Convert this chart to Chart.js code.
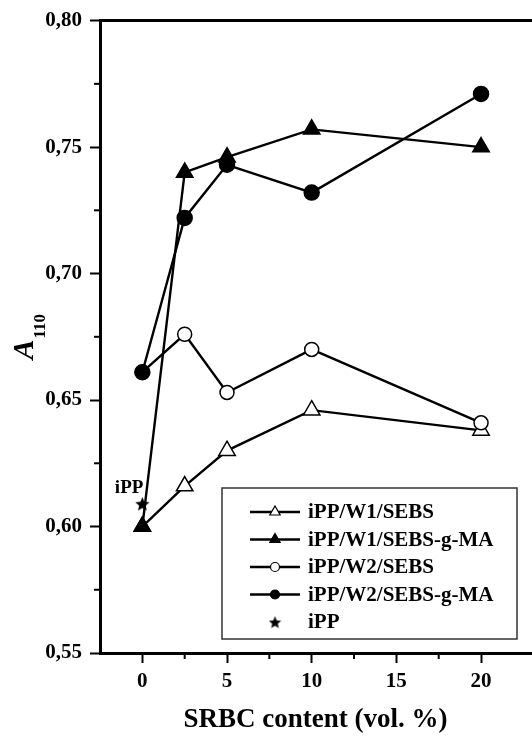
<!DOCTYPE html>
<html>
<head>
<meta charset="utf-8">
<script src="https://cdn.jsdelivr.net/npm/chart.js@4.4.1/dist/chart.umd.min.js"></script>
<style>
  html, body { margin: 0; padding: 0; background: #fff; }
  canvas { display: block; }
</style>
</head>
<body>
<canvas id="a110Chart" width="532" height="736"></canvas>
<script>
// SRBC content (vol. %)
const srbc = [0, 2.5, 5, 10, 20];

// A110 for each blend
const w1Sebs = [0.600, 0.616, 0.630, 0.646, 0.638];
const w1SebsMA = [0.600, 0.740, 0.746, 0.757, 0.750];
const w2Sebs = [0.661, 0.676, 0.653, 0.670, 0.641];
const w2SebsMA = [0.661, 0.722, 0.743, 0.732, 0.771];

// neat iPP
const ippX = [0];
const ippA = [0.609];

const seriesNames = ['iPP/W1/SEBS', 'iPP/W1/SEBS-g-MA', 'iPP/W2/SEBS', 'iPP/W2/SEBS-g-MA', 'iPP'];

// axis ticks
const xTicks = [0, 5, 10, 15, 20];
const xMinorTicks = [2.5, 7.5, 12.5, 17.5];
const yTicks = [0.55, 0.60, 0.65, 0.70, 0.75, 0.80];
const yMinorTicks = [0.575, 0.625, 0.675, 0.725, 0.775];

const serif = "'Liberation Serif', 'Times New Roman', serif";

// filled five-point star used as a point style
function makeStar(size) {
    const c = document.createElement('canvas');
    c.width = c.height = size;
    const g = c.getContext('2d');
    const R = size / 2, r = R * 0.45;
    g.beginPath();
    for (let i = 0; i < 10; i++) {
        const rad = i % 2 ? r : R;
        const a = -Math.PI / 2 + i * Math.PI / 5;
        g.lineTo(R + rad * Math.cos(a), R + rad * Math.sin(a) + 0.8);
    }
    g.closePath();
    g.fillStyle = '#000';
    g.fill();
    return c;
}
const star = makeStar(15);
const legendStar = makeStar(13);

const pts = (xs, ys) => xs.map((x, i) => ({ x: x, y: ys[i] }));

function series(label, ys, style, filled, radius, order) {
    return {
        label: label,
        data: pts(srbc, ys),
        borderColor: '#000',
        borderWidth: 2.4,
        pointStyle: style,
        pointRadius: radius,
        pointBackgroundColor: filled ? '#000' : '#fff',
        pointBorderColor: '#000',
        pointBorderWidth: 1.5,
        tension: 0,
        order: order
    };
}

const datasets = [
    series(seriesNames[0], w1Sebs, 'triangle', false, 9.5, 4),
    series(seriesNames[1], w1SebsMA, 'triangle', true, 9.5, 1),
    series(seriesNames[2], w2Sebs, 'circle', false, 7, 3),
    series(seriesNames[3], w2SebsMA, 'circle', true, 7.5, 2),
    {
        label: seriesNames[4],
        data: pts(ippX, ippA),
        showLine: false,
        pointStyle: star,
        pointRadius: 8,
        order: 0
    }
];

// stretch the plot area to the right edge of the canvas
const fullWidth = {
    id: 'fullWidth',
    afterLayout(chart) {
        const a = chart.chartArea, x = chart.scales.x;
        a.right = chart.width - 1;
        a.width = a.right - a.left;
        x.right = a.right;
        x.width = x.right - x.left;
        x.configure();
    }
};

// frame, minor ticks, y title, point label and legend box
const extras = {
    id: 'extras',
    afterDraw(chart) {
        const { ctx, chartArea: a, scales: { x, y } } = chart;
        ctx.save();
        ctx.strokeStyle = '#000';
        ctx.fillStyle = '#000';

        ctx.lineWidth = 3;
        ctx.beginPath();
        ctx.moveTo(a.left, a.top);
        ctx.lineTo(a.right + 1, a.top);
        ctx.stroke();

        ctx.lineWidth = 2;
        xMinorTicks.forEach(v => {
            const px = x.getPixelForValue(v);
            ctx.beginPath();
            ctx.moveTo(px, a.bottom);
            ctx.lineTo(px, a.bottom + 6);
            ctx.stroke();
        });
        yMinorTicks.forEach(v => {
            const py = y.getPixelForValue(v);
            ctx.beginPath();
            ctx.moveTo(a.left, py);
            ctx.lineTo(a.left - 6, py);
            ctx.stroke();
        });

        // A110 axis title
        const cy = (a.top + a.bottom) / 2;
        ctx.font = 'italic bold 30px ' + serif;
        const wA = ctx.measureText('A').width;
        ctx.font = 'bold 17px ' + serif;
        const wSub = ctx.measureText('110').width;
        const total = wA + 1 + wSub;
        ctx.save();
        ctx.translate(33, cy + total / 2);
        ctx.rotate(-Math.PI / 2);
        ctx.textBaseline = 'alphabetic';
        ctx.textAlign = 'left';
        ctx.font = 'italic bold 30px ' + serif;
        ctx.fillText('A', 0, 0);
        ctx.font = 'bold 17px ' + serif;
        ctx.fillText('110', wA + 1, 12);
        ctx.restore();

        // label beside the iPP star
        const sx = x.getPixelForValue(ippX[0]);
        const sy = y.getPixelForValue(ippA[0]);
        ctx.font = 'bold 19px ' + serif;
        ctx.textAlign = 'right';
        ctx.textBaseline = 'bottom';
        ctx.fillText('iPP', sx + 1, sy - 6);

        // legend
        const bx = 222, by = 488, bw = 295, bh = 151;
        ctx.lineWidth = 1.5;
        ctx.strokeStyle = '#333';
        ctx.strokeRect(bx, by, bw, bh);
        ctx.strokeStyle = '#000';
        ctx.font = 'bold 21px ' + serif;
        ctx.textAlign = 'left';
        ctx.textBaseline = 'middle';
        chart.data.datasets.forEach((ds, i) => {
            const ly = by + 24 + i * 27.5;
            if (ds.showLine !== false) {
                ctx.lineWidth = 2.4;
                ctx.beginPath();
                ctx.moveTo(250, ly);
                ctx.lineTo(300, ly);
                ctx.stroke();
                ctx.fillStyle = ds.pointBackgroundColor;
                ctx.lineWidth = 1.2;
                const r = ds.pointStyle === 'triangle' ? 6 : 4.5;
                Chart.helpers.drawPoint(ctx, { pointStyle: ds.pointStyle, radius: r, rotation: 0, borderWidth: 1.2 }, 275, ly);
            } else {
                ctx.drawImage(legendStar, 275 - 6.5, ly - 6.5);
            }
            ctx.fillStyle = '#000';
            ctx.fillText(ds.label, 308, ly + 1);
        });
        ctx.restore();
    }
};

const tickFont = { family: serif, weight: 'bold', size: 21 };

new Chart(document.getElementById('a110Chart').getContext('2d'), {
    type: 'line',
    data: { datasets: datasets },
    options: {
        responsive: false,
        animation: false,
        layout: { padding: { top: 19, right: 1, left: 0, bottom: 0 } },
        plugins: {
            legend: { display: false },
            tooltip: { enabled: false }
        },
        scales: {
            x: {
                type: 'linear',
                min: -2.5,
                max: 22.95,
                afterBuildTicks: s => { s.ticks = xTicks.map(v => ({ value: v })); },
                afterFit: s => { s.height = 83; },
                ticks: { font: tickFont, color: '#000', padding: 6, callback: v => String(v) },
                grid: { drawOnChartArea: false, drawTicks: true, tickLength: 10, tickWidth: 2, tickColor: '#000' },
                border: { display: true, color: '#000', width: 3 },
                title: {
                    display: true,
                    text: 'SRBC content (vol. %)',
                    color: '#000',
                    font: { family: serif, weight: 'bold', size: 27 },
                    padding: { top: 0, bottom: 0 }
                }
            },
            y: {
                min: 0.55,
                max: 0.80,
                afterBuildTicks: s => { s.ticks = yTicks.map(v => ({ value: v })); },
                afterFit: s => { s.width = 100; },
                ticks: { font: tickFont, color: '#000', padding: 8, callback: v => v.toFixed(2).replace('.', ',') },
                grid: { drawOnChartArea: false, drawTicks: true, tickLength: 10, tickWidth: 2, tickColor: '#000' },
                border: { display: true, color: '#000', width: 3 }
            }
        }
    },
    plugins: [fullWidth, extras]
});
</script>
</body>
</html>
